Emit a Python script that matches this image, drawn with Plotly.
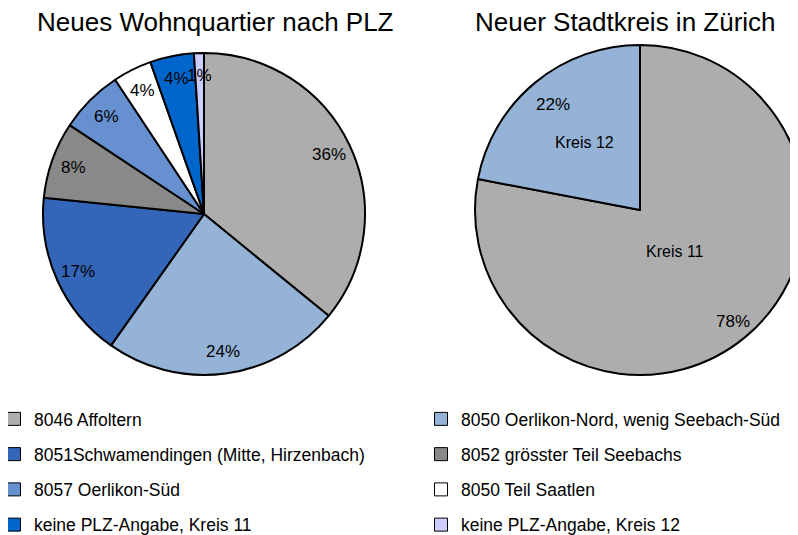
import numpy as np
import plotly.graph_objects as go

W, H = 798, 560
OFF = 8  # the page body adds an 8px margin around the figure
FONT = "Liberation Sans, Arial, sans-serif"

# ---- data ----
left_title = "Neues Wohnquartier nach PLZ"
left_labels = [
    "8046 Affoltern",
    "8050 Oerlikon-Nord, wenig Seebach-Süd",
    "8051Schwamendingen (Mitte, Hirzenbach)",
    "8052 grösster Teil Seebachs",
    "8057 Oerlikon-Süd",
    "8050 Teil Saatlen",
    "keine PLZ-Angabe, Kreis 11",
    "keine PLZ-Angabe, Kreis 12",
]
left_values = [35.9, 23.9, 16.8, 7.7, 6.4, 3.9, 4.4, 1.0]
left_colors = ["#ADADAD", "#95B3D7", "#3366B8", "#898989",
               "#6690D0", "#FFFFFF", "#0066CC", "#CCCCFF"]

right_title = "Neuer Stadtkreis in Zürich"
right_labels = ["Kreis 11", "Kreis 12"]
right_values = [78, 22]
right_colors = ["#ADADAD", "#95B3D7"]

# ---- geometry (screen pixels, converted to figure coords) ----
left_dom_px = dict(x=(43, 365), y=(53, 375))
right_dom_px = dict(x=(475, 805), y=(45, 375))


def fx(px):
    return (px - OFF) / W


def fy(py):
    return 1 - (py - OFF) / H


def dom(d):
    return dict(x=[fx(d["x"][0]), fx(d["x"][1])],
                y=[fy(d["y"][1]), fy(d["y"][0])])


def geom(d):
    w = d["x"][1] - d["x"][0]
    h = d["y"][1] - d["y"][0]
    cx = (d["x"][0] + d["x"][1]) / 2
    cy = (d["y"][0] + d["y"][1]) / 2
    return cx, cy, min(w, h) / 2


def slice_points(values, radii, d):
    cx, cy, R = geom(d)
    v = np.asarray(values, float)
    frac = v / v.sum()
    mid = np.cumsum(frac) - frac / 2
    th = 2 * np.pi * mid
    r = np.asarray(radii, float) * R
    px = cx + r * np.sin(th)
    py = cy - r * np.cos(th)
    return fx(px), fy(py), frac


fig = go.Figure()

line = dict(color="black", width=2)
fig.add_trace(go.Pie(labels=left_labels, values=left_values, sort=False,
                     direction="clockwise", rotation=0,
                     marker=dict(colors=left_colors, line=line),
                     textinfo="none", showlegend=False, domain=dom(left_dom_px),
                     hoverinfo="label+percent"))
fig.add_trace(go.Pie(labels=right_labels, values=right_values, sort=False,
                     direction="clockwise", rotation=0,
                     marker=dict(colors=right_colors, line=line),
                     textinfo="none", showlegend=False, domain=dom(right_dom_px),
                     hoverinfo="label+percent"))

annotations = []


def label(x, y, text, size):
    return dict(x=x, y=y, xref="paper", yref="paper", text=text,
                showarrow=False, xanchor="center", yanchor="middle",
                font=dict(size=size, color="black", family=FONT))


# left pie percentage labels
xs, ys, fr = slice_points(left_values, [0.86] * len(left_values), left_dom_px)
for x, y, f in zip(xs, ys, fr):
    annotations.append(label(x, y, f"{round(f * 100)}%", 17))
# right pie percentage labels
xs, ys, fr = slice_points(right_values, [0.88, 0.83], right_dom_px)
for x, y, f in zip(xs, ys, fr):
    annotations.append(label(x, y, f"{round(f * 100)}%", 17))
# right pie category labels
xs, ys, fr = slice_points(right_values, [0.33, 0.53], right_dom_px)
for x, y, lab in zip(xs, ys, right_labels):
    annotations.append(label(x, y, lab, 16))
# titles
annotations.append(label(fx(215), fy(22), left_title, 26))
annotations.append(label(fx(625), fy(22), right_title, 26))

# legend entries (row-major: left column gets even items, right column odd)
for i, (lab, col) in enumerate(zip(left_labels, left_colors)):
    fig.add_trace(go.Scatter(
        x=[None], y=[None], mode="markers", name=lab,
        marker=dict(symbol="square", size=13, color=col,
                    line=dict(color="black", width=1)),
        legend="legend" if i % 2 == 0 else "legend2",
        legendgroup=f"g{i}", hoverinfo="skip"))

leg_common = dict(yanchor="top", xanchor="left", bgcolor="rgba(0,0,0,0)",
                  borderwidth=0, tracegroupgap=9.5, orientation="v",
                  font=dict(size=17.5, color="black", family=FONT))

fig.update_layout(
    width=W, height=H, margin=dict(l=0, r=0, t=0, b=0, autoexpand=False),
    paper_bgcolor="white", plot_bgcolor="white",
    xaxis=dict(visible=False), yaxis=dict(visible=False),
    showlegend=True,
    legend=dict(x=fx(14 - 20), y=fy(401), **leg_common),
    legend2=dict(x=fx(441 - 20), y=fy(401), **leg_common),
    annotations=annotations,
)

fig.write_html("out.html")
